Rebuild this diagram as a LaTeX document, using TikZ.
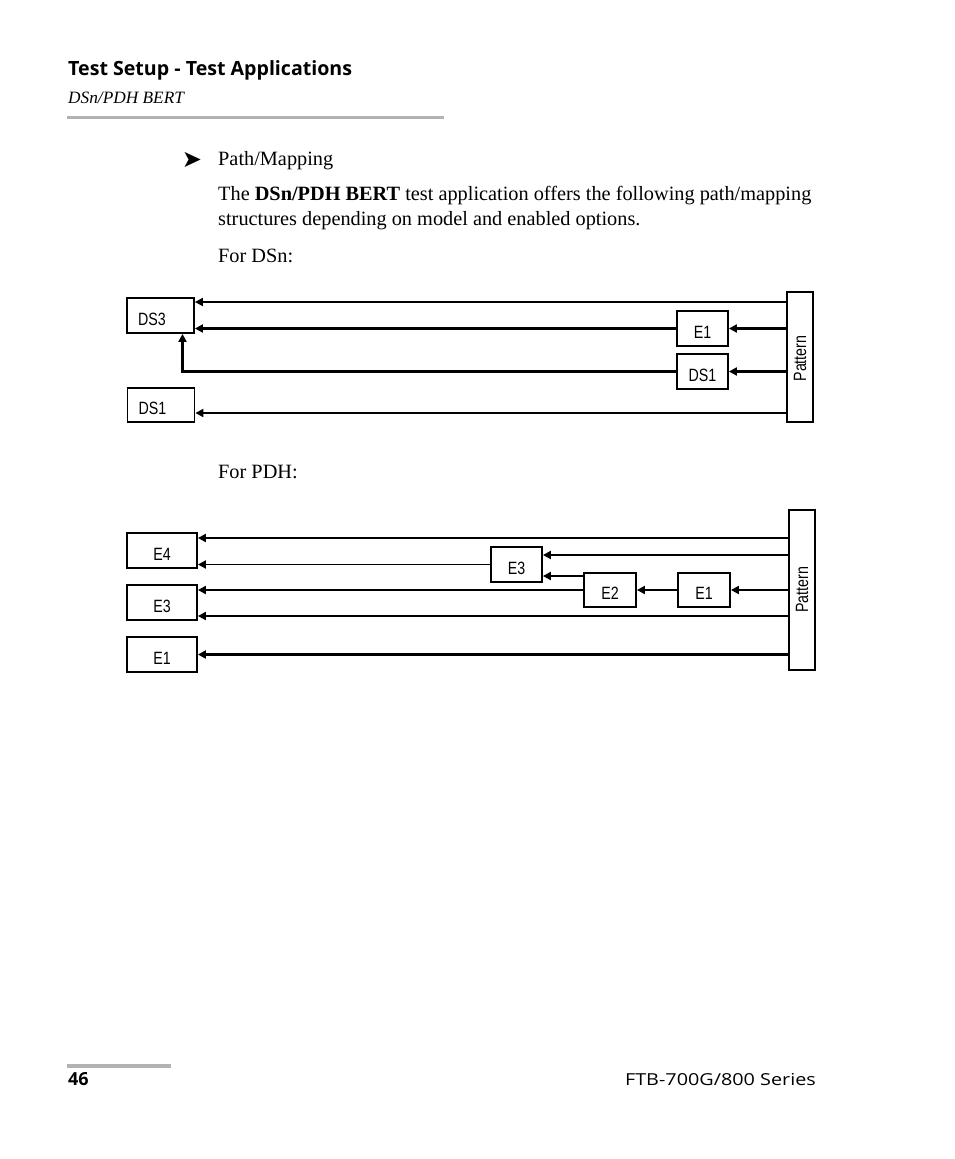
\documentclass[tikz,border=0pt]{standalone}
\usepackage{fontspec}
\setmainfont{Liberation Serif}
\newfontfamily\hdrfont{Open Sans}
\newfontfamily\ftrfont[FakeStretch=1.2]{Open Sans}
\newfontfamily\diagfont[FakeStretch=0.8]{Liberation Sans}
\newfontfamily\symfont{DejaVu Sans}
\usetikzlibrary{arrows.meta,calc}
\begin{document}
\begin{tikzpicture}[x=1pt,y=-1pt,
  box/.style={draw, line width=1.8pt, inner sep=0pt, text height=19pt, text depth=0pt, font=\diagfont\fontsize{17.8}{19}\selectfont},
  lbox/.style={box, align=left, text width=45pt, inner xsep=11pt},
  patbox/.style={draw, line width=1.8pt, inner sep=0pt, minimum width=26pt},
  tk/.style={line width=2.9pt, -{Triangle[length=8pt,width=8pt]}},
  md/.style={line width=2.3pt, -{Triangle[length=8pt,width=8pt]}},
  tn/.style={line width=1.8pt, -{Triangle[length=8pt,width=8pt]}},
  body/.style={anchor=base west, inner sep=0pt, font=\fontsize{20.3}{24}\selectfont},
  plabel/.style={rotate=90, inner sep=0pt, font=\diagfont\fontsize{17.8}{19}\selectfont}
]
\useasboundingbox[fill=white] (0,0) rectangle (954,1159);

% header
\node[anchor=base west, inner sep=0pt, font=\hdrfont\bfseries\fontsize{19.6}{22}\selectfont] (hdr) at (68,75) {Test Setup - Test Applications};
\node[anchor=base west, inner sep=0pt, font=\itshape\fontsize{17.3}{20}\selectfont] (sub) at (68,103) {DSn/PDH BERT};
\draw[line width=3.5pt, black!30] (67,117.5) -- (444,117.5);

% body text
\node[anchor=center, inner sep=0pt, font=\symfont\fontsize{24}{26}\selectfont] (bul) at (192,159.5) {➤};
\node[body] (t1) at (218,165) {Path/Mapping};
\node[body] (t2) at (218,200) {The \textbf{DSn/PDH BERT} test application offers the following path/mapping};
\node[body] (t3) at (218,225) {structures depending on model and enabled options.};
\node[body] (t4) at (218,262) {For DSn:};
\node[body] (t5) at (218,478) {For PDH:};

% DSn diagram
\node[patbox, minimum height=130pt, label={[plabel, xshift=-1.5pt]center:Pattern}] (pat1) at (800,357) {};
\node[lbox, minimum height=35pt] (ds3) at (160.5,315.5) {DS3};
\node[lbox, minimum height=34pt] (ds1L) at (161,405) {DS1};
\node[box, minimum width=51pt, minimum height=35pt] (e1a) at (702.5,328.5) {E1};
\node[box, minimum width=51pt, minimum height=35pt] (ds1R) at (702.5,371.5) {DS1};

\draw[tn] (pat1.west |- 0,302) -- (ds3.east |- 0,302);
\draw[tk] (e1a.west) -- (ds3.east |- e1a.west);
\draw[tk] (ds1R.west) -| ([xshift=22pt]ds3.south);
\draw[md] (pat1.west |- 0,413) -- (ds1L.east |- 0,413);
\draw[tk] (pat1.west |- e1a.east) -- (e1a.east);
\draw[tk] (pat1.west |- ds1R.east) -- (ds1R.east);

% PDH diagram
\node[patbox, minimum height=160pt, label={[plabel]center:Pattern}] (pat2) at (802,590) {};
\node[box, minimum width=70pt, minimum height=35pt] (e4) at (162,550.5) {E4};
\node[box, minimum width=70pt, minimum height=35pt] (e3L) at (162,602.5) {E3};
\node[box, minimum width=70pt, minimum height=35pt] (e1L) at (162,654.5) {E1};
\node[box, minimum width=51pt, minimum height=35pt] (e3M) at (516.5,564.5) {E3};
\node[box, minimum width=52pt, minimum height=34pt] (e2) at (610,590) {E2};
\node[box, minimum width=52pt, minimum height=34pt] (e1M) at (704,590) {E1};

\draw[tk] (pat2.west |- 0,538) -- (e4.east |- 0,538);
\draw[tn] (e3M.west) -- (e4.east |- e3M.west);
\draw[md] (pat2.west |- 0,555) -- (e3M.east |- 0,555);
\draw[tk] (e2.west |- 0,576) -- (e3M.east |- 0,576);
\draw[tk] (e2.west) -- (e3L.east |- e2.west);
\draw[tk] (e1M.west) -- (e2.east);
\draw[tk] (pat2.west |- e1M.east) -- (e1M.east);
\draw[md] (pat2.west |- 0,616) -- (e3L.east |- 0,616);
\draw[md] (pat2.west |- e1L.east) -- (e1L.east);

% footer
\draw[line width=3.5pt, black!30] (67,1066) -- (171,1066);
\node[anchor=base west, inner sep=0pt, font=\hdrfont\bfseries\fontsize{18}{20}\selectfont] (pg) at (68,1085) {46};
\node[anchor=base east, inner sep=0pt, font=\ftrfont\fontsize{16.5}{18}\selectfont] (ser) at (816,1085) {FTB-700G/800 Series};
\end{tikzpicture}
\end{document}
